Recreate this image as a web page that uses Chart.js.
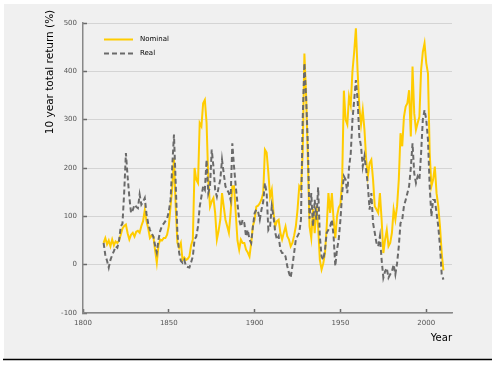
<!DOCTYPE html>
<html lang="en">
<head>
    <meta charset="UTF-8">
    <title>10 year total return</title>
    <script src="https://cdn.jsdelivr.net/npm/chart.js"></script>
    <style>
        html, body { margin: 0; padding: 0; background: #fff; }
        #wrap { width: 497px; height: 365px; }
    </style>
</head>
<body>
    <div id="wrap"><canvas id="myChart" width="497" height="365"></canvas></div>
    <script>
        // 10 year total return (%), one value per year from 1812 to 2010
        const firstYear = 1812;
        const nominal = [
            45, 55, 42, 50, 38, 52, 40, 48, 45, 50,
            62, 75, 80, 83, 65, 52, 62, 66, 58, 68,
            70, 66, 80, 90, 113, 90, 75, 55, 60, 58,
            30, 4, 40, 52, 50, 55, 55, 62, 80, 120,
            160, 220, 120, 45, 35, 45, 10, 15, 10, 12,
            17, 40, 52, 200, 176, 169, 293, 286, 334, 341,
            293, 176, 120, 131, 138, 107, 52, 70, 93, 148,
            120, 93, 80, 66, 107, 162, 162, 107, 50, 31,
            52, 45, 45, 31, 25, 17, 45, 80, 93, 120,
            122, 127, 135, 148, 238, 232, 190, 140, 155, 107,
            79, 90, 93, 66, 52, 66, 79, 59, 52, 38,
            45, 60, 79, 114, 162, 155, 230, 437, 350, 220,
            79, 55, 115, 65, 121, 79, 10, -10, 3, 24,
            79, 148, 107, 148, 93, 55, 100, 118, 125, 176,
            360, 300, 290, 348, 330, 400, 440, 489, 400, 327,
            290, 320, 279, 217, 183, 210, 217, 176, 121, 114,
            107, 148, 93, 24, 52, 72, 38, 45, 66, 114,
            93, 121, 176, 272, 245, 306, 327, 334, 361, 265,
            410, 313, 279, 293, 306, 403, 440, 458, 417, 396,
            231, 162, 176, 203, 148, 121, 79, 24, -12
        ];
        const real = [
            45, 20, 8, -6, 10, 20, 28, 38, 35, 50,
            79, 85, 150, 231, 182, 140, 107, 113, 124, 120,
            117, 145, 124, 130, 138, 105, 85, 72, 65, 58,
            40, 25, 52, 70, 80, 85, 90, 95, 110, 134,
            203, 269, 170, 66, 25, 8, 4, 10, -3, -5,
            -6, 5, 17, 52, 58, 79, 120, 141, 162, 155,
            217, 148, 162, 238, 203, 155, 141, 160, 176, 217,
            189, 162, 155, 148, 134, 251, 203, 162, 127, 93,
            79, 93, 86, 58, 72, 52, 45, 79, 107, 114,
            110, 93, 114, 130, 169, 148, 72, 79, 121, 100,
            66, 52, 59, 31, 24, 24, 17, -3, -17, -27,
            -3, 24, 52, 59, 66, 93, 300, 417, 345, 250,
            95, 148, 79, 134, 93, 160, 59, 17, 10, 31,
            66, 72, 79, 93, 59, -3, 31, 52, 93, 148,
            183, 176, 148, 200, 230, 300, 340, 382, 341, 265,
            245, 203, 224, 196, 162, 114, 148, 86, 66, 45,
            38, 59, 10, -27, -14, -7, -27, -20, -14, 0,
            -20, 3, 38, 86, 93, 121, 134, 148, 162, 200,
            251, 189, 169, 183, 176, 231, 300, 320, 300, 258,
            162, 100, 134, 134, 107, 79, 38, -20, -31
        ];
        const years = nominal.map((v, i) => firstYear + i);
        const seriesNames = ['Nominal', 'Real'];
        const xTicks = [1800, 1850, 1900, 1950, 2000];
        const yTicks = [-100, 0, 100, 200, 300, 400, 500];

        const font = 'DejaVu Sans';

        // grey panel, bottom rule, legend and y title
        const decor = {
            id: 'decor',
            beforeDraw(chart) {
                const c = chart.ctx;
                c.save();
                c.fillStyle = '#f0f0f0';
                c.fillRect(4, 4, 488, 355);
                c.strokeStyle = '#000';
                c.lineWidth = 1.3;
                c.beginPath();
                c.moveTo(3, 359.5);
                c.lineTo(492, 359.5);
                c.stroke();
                c.restore();
            },
            afterDraw(chart) {
                const c = chart.ctx;
                c.save();
                chart.data.datasets.forEach((ds, i) => {
                    const y = 39.5 + i * 14;
                    c.strokeStyle = ds.borderColor;
                    c.lineWidth = ds.borderWidth;
                    c.setLineDash(ds.borderDash || []);
                    c.beginPath();
                    c.moveTo(104, y);
                    c.lineTo(133, y);
                    c.stroke();
                    c.setLineDash([]);
                    c.fillStyle = '#000';
                    c.font = '7px "' + font + '"';
                    c.textBaseline = 'middle';
                    c.textAlign = 'left';
                    c.fillText(ds.label, 140, y);
                });
                c.translate(50, 72);
                c.rotate(-Math.PI / 2);
                c.fillStyle = '#000';
                c.font = '10.5px "' + font + '"';
                c.textAlign = 'center';
                c.textBaseline = 'middle';
                c.fillText('10 year total return (%)', 0, 0);
                c.restore();
            }
        };

        const ctx = document.getElementById('myChart').getContext('2d');
        new Chart(ctx, {
            type: 'line',
            data: {
                labels: years,
                datasets: [{
                    label: seriesNames[0],
                    data: years.map((yr, i) => ({ x: yr, y: nominal[i] })),
                    borderColor: '#ffcc00',
                    borderWidth: 2,
                    pointRadius: 0,
                    order: 1
                }, {
                    label: seriesNames[1],
                    data: years.map((yr, i) => ({ x: yr, y: real[i] })),
                    borderColor: '#6a6a6a',
                    borderWidth: 2,
                    borderDash: [5, 3],
                    pointRadius: 0,
                    order: 0
                }]
            },
            options: {
                responsive: false,
                animation: false,
                layout: { padding: { top: 23, right: 45, bottom: 0, left: 0 } },
                plugins: {
                    legend: { display: false },
                    tooltip: { enabled: false }
                },
                scales: {
                    x: {
                        type: 'linear',
                        min: 1800,
                        max: 2015,
                        afterFit: (s) => { s.height = 52; },
                        afterBuildTicks: (s) => { s.ticks = xTicks.map(v => ({ value: v })); },
                        ticks: {
                            padding: 10,
                            color: '#555',
                            font: { family: font, size: 7 },
                            maxRotation: 0,
                            callback: (v) => String(v)
                        },
                        grid: {
                            drawOnChartArea: false,
                            drawTicks: true,
                            tickLength: -4,
                            tickColor: '#6a6a6a',
                            tickWidth: 1.5
                        },
                        border: { display: true, color: '#888', width: 1.5 },
                        title: {
                            display: true,
                            text: 'Year',
                            align: 'end',
                            color: '#000',
                            font: { family: font, size: 10 },
                            padding: { top: 0, bottom: 21 }
                        }
                    },
                    y: {
                        min: -100,
                        max: 500,
                        afterFit: (s) => { s.width = 83; },
                        afterBuildTicks: (s) => { s.ticks = yTicks.map(v => ({ value: v })); },
                        ticks: {
                            padding: 10,
                            color: '#555',
                            font: { family: font, size: 7 }
                        },
                        grid: {
                            color: '#d4d4d4',
                            lineWidth: 1,
                            drawTicks: true,
                            tickLength: -4,
                            tickColor: '#6a6a6a',
                            tickWidth: 1.5
                        },
                        border: { display: true, color: '#888', width: 1.5 }
                    }
                }
            },
            plugins: [decor]
        });
    </script>
</body>
</html>
